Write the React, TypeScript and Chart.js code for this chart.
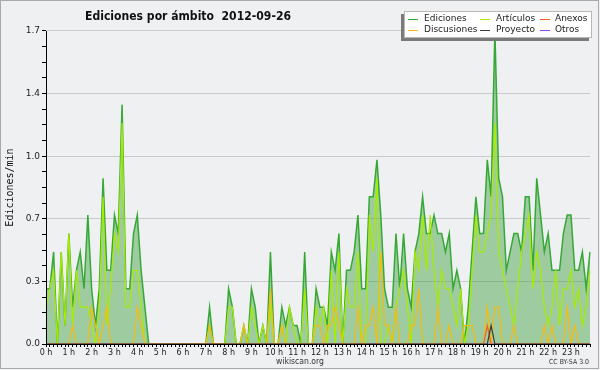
import React, { useEffect, useRef } from 'react';
import { Chart, registerables } from 'chart.js';

Chart.register(...registerables);

const TITLE = 'Ediciones por ámbito  2012-09-26';
const Y_TITLE = 'Ediciones/min';
const FOOTER = 'wikiscan.org';
const LICENSE = 'CC BY-SA 3.0';

const HOUR_LABELS = ['0 h', '1 h', '2 h', '3 h', '4 h', '5 h', '6 h', '7 h', '8 h', '9 h', '10 h', '11 h',
  '12 h', '13 h', '14 h', '15 h', '16 h', '17 h', '18 h', '19 h', '20 h', '21 h', '22 h', '23 h'];
const Y_LABELS = ['0.0', '0.3', '0.7', '1.0', '1.4', '1.7'];
const Y_MAX = 1.7;
const Y_MINOR_STEP = 0.085;

// 10-minute slots of the day
const CATEGORIES: string[] = [];
for (let h = 0; h < 24; h++) {
  for (let m = 0; m < 60; m += 10) {
    CATEGORIES.push(`${String(h).padStart(2, '0')}:${String(m).padStart(2, '0')}`);
  }
}

const EDICIONES = [
  0.3, 0.3, 0.5, 0, 0.5, 0.1, 0.6, 0.2, 0.4, 0.5, 0.3, 0.7,
  0.3, 0.1, 0.3, 0.9, 0.4, 0.4, 0.7, 0.6, 1.3, 0.3, 0.3, 0.6,
  0.7, 0.4, 0.2, 0, 0, 0, 0, 0, 0, 0, 0, 0,
  0, 0, 0, 0, 0, 0, 0, 0.2, 0, 0, 0, 0,
  0.3, 0.2, 0, 0, 0.1, 0, 0.3, 0.2, 0, 0.1, 0, 0.5,
  0, 0, 0.2, 0.1, 0.2, 0.1, 0.1, 0, 0.5, 0, 0, 0.3,
  0.2, 0.2, 0.1, 0.5, 0.4, 0.6, 0, 0.4, 0.4, 0.5, 0.7, 0.3,
  0.3, 0.8, 0.8, 1.0, 0.7, 0.3, 0.2, 0.2, 0.6, 0.3, 0.6, 0.3,
  0.2, 0.5, 0.6, 0.8, 0.6, 0.6, 0.7, 0.6, 0.6, 0.5, 0.6, 0.3,
  0.4, 0.3, 0, 0.2, 0.5, 0.8, 0.6, 0.6, 1.0, 0.8, 1.7, 0.9,
  0.8, 0.4, 0.5, 0.6, 0.6, 0.5, 0.8, 0.8, 0.4, 0.9, 0.7, 0.5,
  0.6, 0.4, 0.4, 0.4, 0.6, 0.7, 0.7, 0.4, 0.4, 0.5, 0.3, 0.5,
];

const ARTICULOS = [
  0.2, 0.3, 0.4, 0, 0.5, 0.1, 0.6, 0.1, 0.4, 0.2, 0.2, 0.2,
  0.1, 0, 0.2, 0.8, 0.1, 0.3, 0.6, 0.5, 1.2, 0.2, 0.2, 0.4,
  0.4, 0.2, 0, 0, 0, 0, 0, 0, 0, 0, 0, 0,
  0, 0, 0, 0, 0, 0, 0, 0.1, 0, 0, 0, 0,
  0.2, 0.2, 0, 0, 0.1, 0, 0.2, 0.1, 0, 0.1, 0, 0.2,
  0, 0, 0.1, 0, 0.2, 0.1, 0, 0, 0.3, 0, 0, 0.2,
  0.1, 0.2, 0, 0.4, 0, 0.5, 0, 0.3, 0.2, 0.2, 0.5, 0,
  0, 0.7, 0.5, 0.9, 0, 0, 0.1, 0, 0.2, 0.3, 0.4, 0.2,
  0, 0.5, 0.4, 0.7, 0.4, 0.7, 0.4, 0.2, 0.4, 0.3, 0.3, 0.2,
  0.1, 0.3, 0, 0.1, 0.4, 0.7, 0.5, 0.5, 0.6, 0.7, 1.2, 0.5,
  0.4, 0.3, 0.2, 0.1, 0.3, 0.5, 0.6, 0.7, 0.3, 0.5, 0.4, 0.2,
  0.1, 0.2, 0.4, 0.1, 0.3, 0.3, 0.4, 0.2, 0.3, 0.1, 0.2, 0.4,
];

const DISCUSIONES = [
  0, 0, 0, 0, 0, 0, 0, 0.1, 0, 0, 0, 0,
  0.2, 0.1, 0, 0.1, 0.2, 0, 0, 0, 0, 0, 0, 0,
  0.2, 0.1, 0, 0, 0, 0, 0, 0, 0, 0, 0, 0,
  0, 0, 0, 0, 0, 0, 0, 0.1, 0, 0, 0, 0,
  0, 0, 0, 0, 0.1, 0, 0, 0, 0, 0, 0, 0.3,
  0, 0, 0.1, 0, 0, 0, 0, 0, 0, 0, 0, 0.1,
  0.1, 0, 0.1, 0.1, 0.2, 0.1, 0, 0, 0, 0, 0.2, 0,
  0.1, 0.1, 0.2, 0, 0.5, 0.1, 0.1, 0, 0.2, 0, 0, 0,
  0.1, 0.1, 0.3, 0, 0, 0, 0, 0.2, 0, 0, 0.1, 0,
  0, 0, 0.1, 0.1, 0.1, 0, 0, 0, 0.2, 0, 0.2, 0.2,
  0, 0, 0, 0.1, 0, 0, 0, 0, 0, 0, 0, 0.1,
  0, 0.1, 0, 0, 0, 0.2, 0, 0.1, 0, 0, 0, 0,
];

const ANEXOS = [
  0, 0, 0, 0, 0, 0, 0, 0, 0, 0, 0, 0,
  0, 0, 0, 0, 0, 0, 0, 0, 0, 0, 0, 0,
  0, 0, 0, 0, 0, 0, 0, 0, 0, 0, 0, 0,
  0, 0, 0, 0, 0, 0, 0, 0, 0, 0, 0, 0,
  0, 0, 0, 0, 0, 0, 0, 0, 0, 0, 0, 0,
  0, 0, 0, 0, 0, 0, 0, 0, 0, 0, 0, 0,
  0, 0, 0, 0, 0, 0, 0, 0, 0, 0, 0, 0,
  0, 0, 0, 0, 0, 0, 0, 0, 0, 0, 0, 0,
  0, 0, 0, 0, 0, 0, 0, 0, 0, 0, 0, 0,
  0, 0, 0, 0, 0, 0, 0, 0, 0.1, 0, 0, 0,
  0, 0, 0, 0, 0, 0, 0, 0, 0, 0, 0, 0,
  0, 0, 0, 0, 0, 0, 0, 0, 0, 0, 0, 0,
];

const PROYECTO = [
  0, 0, 0, 0, 0, 0, 0, 0, 0, 0, 0, 0,
  0, 0, 0, 0, 0, 0, 0, 0, 0, 0, 0, 0,
  0, 0, 0, 0, 0, 0, 0, 0, 0, 0, 0, 0,
  0, 0, 0, 0, 0, 0, 0, 0, 0, 0, 0, 0,
  0, 0, 0, 0, 0, 0, 0, 0, 0, 0, 0, 0,
  0, 0, 0, 0, 0, 0, 0, 0, 0, 0, 0, 0,
  0, 0, 0, 0, 0, 0, 0, 0, 0, 0, 0, 0,
  0, 0, 0, 0, 0, 0, 0, 0, 0, 0, 0, 0,
  0, 0, 0, 0, 0, 0, 0, 0, 0, 0, 0, 0,
  0, 0, 0, 0, 0, 0, 0, 0, 0, 0.1, 0, 0,
  0, 0, 0, 0, 0, 0, 0, 0, 0, 0, 0, 0,
  0, 0, 0, 0, 0, 0, 0, 0, 0, 0, 0, 0,
];

const OTROS = [
  0, 0, 0, 0, 0, 0, 0, 0, 0, 0, 0, 0,
  0, 0, 0, 0, 0, 0, 0, 0, 0, 0, 0, 0,
  0, 0, 0, 0, 0, 0, 0, 0, 0, 0, 0, 0,
  0, 0, 0, 0, 0, 0, 0, 0, 0, 0, 0, 0,
  0, 0, 0, 0, 0, 0, 0, 0, 0, 0, 0, 0,
  0, 0, 0, 0, 0, 0, 0, 0, 0, 0, 0, 0,
  0, 0, 0, 0, 0, 0, 0, 0, 0, 0, 0, 0,
  0, 0, 0, 0, 0, 0, 0, 0, 0, 0, 0, 0,
  0, 0, 0, 0, 0, 0, 0, 0, 0, 0, 0, 0,
  0, 0, 0, 0, 0, 0, 0, 0, 0, 0, 0, 0,
  0, 0, 0, 0, 0, 0, 0, 0, 0, 0, 0, 0,
  0, 0, 0, 0, 0, 0, 0, 0, 0, 0, 0, 0,
];

const BG = '#eff0f2';
const C_EDICIONES = '#36a836';
const C_EDICIONES_FILL = 'rgba(60,160,60,0.45)';
const C_ARTICULOS = '#a8ec00';
const C_DISCUSIONES = '#f4bc10';
const C_ANEXOS = '#f0602a';
const C_PROYECTO = '#3a3a3a';
const C_OTROS = '#9848e8';

// legend grid: [label, color, col, row]
const LEGEND: [string, string, number, number][] = [
  ['Ediciones', C_EDICIONES, 0, 0],
  ['Artículos', C_ARTICULOS, 1, 0],
  ['Anexos', C_ANEXOS, 2, 0],
  ['Discusiones', C_DISCUSIONES, 0, 1],
  ['Proyecto', C_PROYECTO, 1, 1],
  ['Otros', C_OTROS, 2, 1],
];

const decorPlugin = {
  id: 'decor',
  beforeDraw(chart: any) {
    const ctx = chart.ctx as CanvasRenderingContext2D;
    ctx.save();
    ctx.fillStyle = BG;
    ctx.fillRect(0, 0, chart.width, chart.height);
    ctx.strokeStyle = '#a9a9a9';
    ctx.lineWidth = 1;
    ctx.strokeRect(0.5, 0.5, 598, 368);
    ctx.restore();
  },
  afterDraw(chart: any) {
    const ctx = chart.ctx as CanvasRenderingContext2D;
    ctx.save();
    // title
    ctx.fillStyle = '#111';
    ctx.textAlign = 'left';
    ctx.textBaseline = 'alphabetic';
    ctx.font = 'bold 13px "DejaVu Sans"';
    ctx.fillText(TITLE, 85, 19.5, 206);
    // footer
    ctx.fillStyle = '#333';
    ctx.font = '8px "DejaVu Sans"';
    ctx.textAlign = 'center';
    ctx.fillText(FOOTER, 300, 364, 48);
    ctx.font = '7px "DejaVu Sans"';
    ctx.textAlign = 'right';
    ctx.fillText(LICENSE, 589, 364, 40);
    // legend
    const bx = 404, by = 11, bw = 188, bh = 27;
    ctx.fillStyle = '#7a7a7a';
    ctx.fillRect(bx - 3, by + 3, bw, bh);
    ctx.fillStyle = '#ffffff';
    ctx.fillRect(bx, by, bw, bh);
    ctx.strokeStyle = '#b8b8b8';
    ctx.strokeRect(bx + 0.5, by + 0.5, bw - 1, bh - 1);
    const lineX = [408, 480, 540];
    const textX = [424, 496, 555];
    const rowY = [18.5, 29.5];
    ctx.font = '9px "DejaVu Sans"';
    ctx.textAlign = 'left';
    ctx.textBaseline = 'middle';
    for (const [label, color, col, row] of LEGEND) {
      const y = rowY[row];
      ctx.strokeStyle = color;
      ctx.lineWidth = 1;
      ctx.beginPath();
      ctx.moveTo(lineX[col], Math.round(y) + 0.5);
      ctx.lineTo(lineX[col] + 10, Math.round(y) + 0.5);
      ctx.stroke();
      ctx.fillStyle = '#222';
      ctx.fillText(label, textX[col], y + 0.5);
    }
    ctx.restore();
  },
};

const lineDs = (label: string, data: number[], color: string, order: number, width = 1.2) => ({
  label,
  data,
  borderColor: color,
  borderWidth: width,
  pointRadius: 0,
  pointHoverRadius: 0,
  tension: 0,
  fill: false,
  order,
});

export default function App() {
  const ref = useRef<HTMLCanvasElement>(null);
  useEffect(() => {
    document.body.style.margin = '0';
    const canvas = ref.current!;
    const yTicks: number[] = [];
    for (let k = 0; k <= Math.round(Y_MAX / Y_MINOR_STEP); k++) yTicks.push(k * Y_MINOR_STEP);
    const chart = new Chart(canvas, {
      type: 'line',
      data: {
        labels: CATEGORIES,
        datasets: [
          {
            ...lineDs('Ediciones', EDICIONES, C_EDICIONES, 6, 1.5),
            fill: 'origin',
            backgroundColor: C_EDICIONES_FILL,
          },
          lineDs('Artículos', ARTICULOS, C_ARTICULOS, 4),
          lineDs('Anexos', ANEXOS, C_ANEXOS, 2),
          lineDs('Discusiones', DISCUSIONES, C_DISCUSIONES, 3),
          lineDs('Proyecto', PROYECTO, C_PROYECTO, 1),
          lineDs('Otros', OTROS, C_OTROS, 5),
        ] as any,
      },
      options: {
        animation: false,
        responsive: false,
        devicePixelRatio: 1,
        events: [],
        layout: { padding: { top: 31, right: 10, left: 0, bottom: 0 } },
        plugins: {
          legend: { display: false },
          title: { display: false },
          tooltip: { enabled: false },
        },
        scales: {
          x: {
            type: 'category',
            offset: false,
            afterFit: (s: any) => { s.height = 26; },
            grid: {
              display: true,
              drawOnChartArea: false,
              drawTicks: true,
              tickLength: 3,
              tickColor: '#000',
            },
            border: { display: true, color: '#000', width: 1, z: 1 },
            ticks: {
              autoSkip: false,
              maxRotation: 0,
              minRotation: 0,
              padding: 1,
              color: '#222',
              font: { family: '"DejaVu Sans"', size: 8 },
              callback: (_v: any, i: number) => (i % 6 === 0 ? HOUR_LABELS[i / 6] : ''),
            },
          },
          y: {
            type: 'linear',
            min: 0,
            max: Y_MAX,
            afterFit: (s: any) => { s.width = 46; },
            afterBuildTicks: (s: any) => { s.ticks = yTicks.map((v) => ({ value: v })); },
            grid: {
              display: true,
              drawOnChartArea: true,
              drawTicks: true,
              tickLength: 4,
              tickColor: '#000',
              color: (c: any) => (c.index % 4 === 0 && c.index > 0 ? '#cacaca' : 'rgba(0,0,0,0)'),
            },
            border: { display: true, color: '#000', width: 1, z: 1 },
            ticks: {
              autoSkip: false,
              padding: 2,
              color: '#222',
              font: { family: '"DejaVu Sans"', size: 9 },
              callback: (_v: any, i: number) => (i % 4 === 0 ? Y_LABELS[i / 4] : ''),
            },
            title: {
              display: true,
              text: Y_TITLE,
              color: '#111',
              font: { family: '"DejaVu Sans Mono"', size: 10 },
              padding: { top: 4, bottom: 4 },
            },
          },
        },
      },
      plugins: [decorPlugin],
    });
    return () => chart.destroy();
  }, []);
  return (
    <div style={{ width: 600, height: 370 }}>
      <canvas ref={ref} width={600} height={370} style={{ display: 'block', width: 600, height: 370 }} />
    </div>
  );
}
